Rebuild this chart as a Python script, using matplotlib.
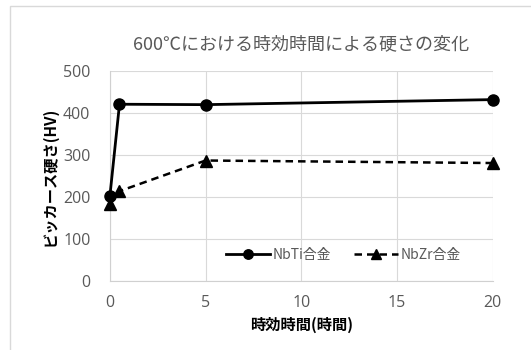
import matplotlib.pyplot as plt
from matplotlib.patches import Rectangle

plt.rcParams['font.family'] = ['Noto Sans CJK JP', 'DejaVu Sans']

# ---- Data ----
hours = [0, 0.5, 5, 20]
nbti = [203, 421, 420, 432]
nbzr = [183, 214, 287, 281]
xticks = [0, 5, 10, 15, 20]
yticks = [0, 100, 200, 300, 400, 500]

fig = plt.figure(figsize=(5.31, 3.5), dpi=100)
ax = fig.add_axes([0.207, 0.197, 0.721, 0.60])

# chart frame
fig.patches.append(Rectangle((10 / 531, -0.1), 1.2, 1.1 - 6 / 350,
                             transform=fig.transFigure, fill=False,
                             edgecolor='#d9d9d9', linewidth=1.0))

ax.plot(hours, nbti, color='black', linewidth=2, marker='o', markersize=8,
        label='NbTi合金', clip_on=False, zorder=3)
ax.plot(hours, nbzr, color='black', linewidth=1.8, linestyle='--', dashes=(3, 2),
        marker='^', markersize=8, label='NbZr合金', clip_on=False, zorder=3)

ax.set_xlim(0, 20)
ax.set_ylim(0, 500)
ax.set_xticks(xticks)
ax.set_yticks(yticks)
ax.grid(True, color='#d9d9d9', linewidth=0.8)
ax.set_axisbelow(True)
for s in ['top', 'right']:
    ax.spines[s].set_visible(False)
for s in ['left', 'bottom']:
    ax.spines[s].set_color('#d0d0d0')
ax.tick_params(axis='y', length=0, labelsize=11.5, labelcolor='#595959', pad=14)
ax.tick_params(axis='x', length=0, labelsize=11.5, labelcolor='#595959', pad=10)
for lab in ax.get_xticklabels() + ax.get_yticklabels():
    lab.set_fontfamily(['Open Sans', 'DejaVu Sans'])

ax.set_title('600℃における時効時間による硬さの変化', fontsize=13,
             color='#595959', pad=16)
ax.set_xlabel('時効時間(時間)', fontsize=11, fontweight='bold', labelpad=4)
ax.set_ylabel('ビッカース硬さ(HV)', fontsize=11, fontweight='bold', labelpad=4)

leg = ax.legend(loc='lower right', bbox_to_anchor=(0.95, 0.03), ncol=2, frameon=False,
                fontsize=10, handlelength=3.2, columnspacing=1.6, handletextpad=0.2,
                markerscale=0.85)
for t in leg.get_texts():
    t.set_color('#595959')

fig.savefig('out.png', dpi=100)
